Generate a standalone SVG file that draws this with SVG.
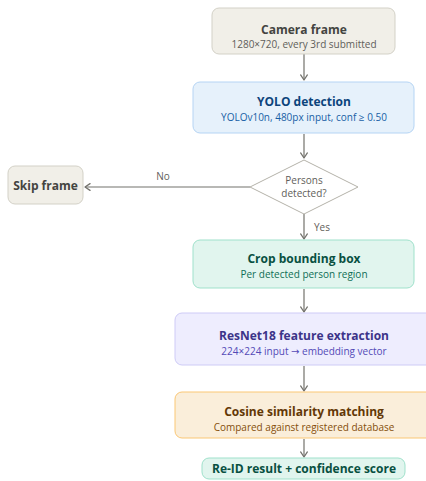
<svg xmlns="http://www.w3.org/2000/svg" width="426" height="481" viewBox="0 0 426 481">
<style>
text{font-family:"Open Sans","Noto Sans","DejaVu Sans",sans-serif;text-anchor:middle}
.t{font-size:12px;font-weight:700}
.s{font-size:10px}
.l{font-size:10px;fill:#5f5e5a}
.e{stroke:#73726c;stroke-width:1.2;fill:none;marker-end:url(#a)}
.gray rect{fill:#f1efe8;stroke:#d3d1c7}
.gray .t{fill:#444441}.gray .s{fill:#5f5e5a}
.blue rect{fill:#e6f1fb;stroke:#b5d4f4}
.blue .t{fill:#0c447c}.blue .s{fill:#185fa5}
.teal rect{fill:#e1f5ee;stroke:#9fe1cb}
.teal .t{fill:#085041}.teal .s{fill:#0f6e56}
.purple rect{fill:#eeedfe;stroke:#cecbf6}
.purple .t{fill:#3c3489}.purple .s{fill:#534ab7}
.amber rect{fill:#faeeda;stroke:#fac775}
.amber .t{fill:#633806}.amber .s{fill:#854f0b}
</style>
<defs>
<marker id="a" viewBox="0 0 10 10" refX="8" refY="5" markerWidth="7" markerHeight="7" orient="auto-start-reverse">
<path d="M2 1L8 5L2 9" fill="none" stroke="#73726c" stroke-width="1.5" stroke-linecap="round" stroke-linejoin="round"/>
</marker>
</defs>
<g id="connectors">
<line class="e" x1="304" y1="54" x2="304" y2="80"/>
<line class="e" x1="304" y1="134" x2="304" y2="158"/>
<line class="e" x1="250" y1="187" x2="85" y2="187"/>
<line class="e" x1="304" y1="214" x2="304" y2="239"/>
<line class="e" x1="304" y1="289" x2="304" y2="312"/>
<line class="e" x1="304" y1="366" x2="304" y2="391"/>
<line class="e" x1="304" y1="439" x2="304" y2="457"/>
<text class="l" x="163" y="180">No</text>
<text class="l" x="322" y="231">Yes</text>
</g>
<g id="camera" class="gray">
<rect x="212" y="8" width="183" height="46" rx="7"/>
<text class="t" x="304" y="34">Camera frame</text>
<text class="s" x="304" y="48">1280×720, every 3rd submitted</text>
</g>
<g id="yolo" class="blue">
<rect x="193" y="82" width="221" height="51" rx="7"/>
<text class="t" x="304" y="106">YOLO detection</text>
<text class="s" x="304" y="121">YOLOv10n, 480px input, conf ≥ 0.50</text>
</g>
<g id="decision">
<polygon points="304,160 358,187 304,214 250,187" fill="#ffffff" stroke="#b4b2a9"/>
<text class="s" x="304" y="184" fill="#5f5e5a">Persons</text>
<text class="s" x="304" y="197" fill="#5f5e5a">detected?</text>
</g>
<g id="skip" class="gray">
<rect x="8" y="166" width="75" height="38" rx="7"/>
<text class="t" x="45.5" y="190">Skip frame</text>
</g>
<g id="crop" class="teal">
<rect x="193" y="240" width="221" height="48" rx="7"/>
<text class="t" x="304" y="263">Crop bounding box</text>
<text class="s" x="304" y="278">Per detected person region</text>
</g>
<g id="resnet" class="purple">
<rect x="175" y="313" width="258" height="52" rx="7"/>
<text class="t" x="304" y="340">ResNet18 feature extraction</text>
<text class="s" x="304" y="355">224×224 input → embedding vector</text>
</g>
<g id="cosine" class="amber">
<rect x="175" y="392" width="258" height="46" rx="7"/>
<text class="t" x="304" y="416">Cosine similarity matching</text>
<text class="s" x="304" y="431">Compared against registered database</text>
</g>
<g id="reid" class="teal">
<rect x="202" y="458" width="203" height="21" rx="7"/>
<text class="t" x="304" y="473">Re-ID result + confidence score</text>
</g>
</svg>
